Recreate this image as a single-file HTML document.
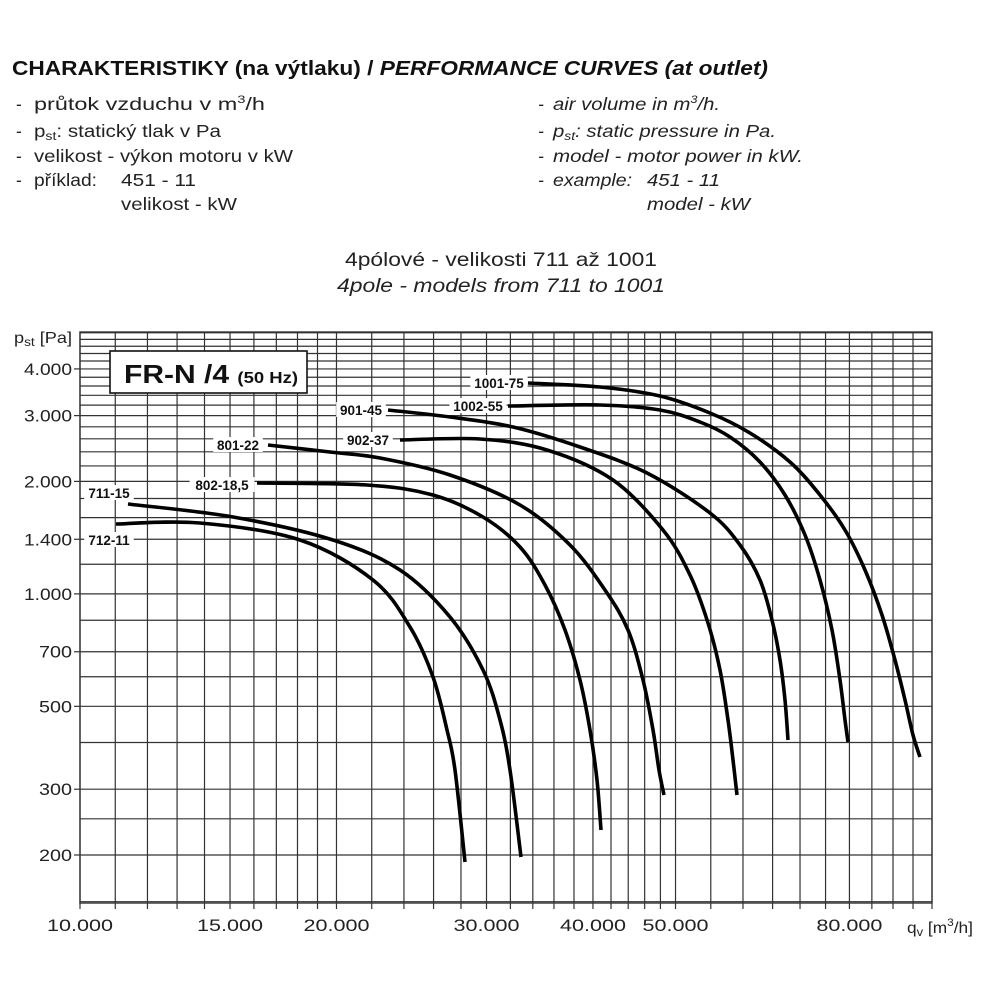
<!DOCTYPE html>
<html><head><meta charset="utf-8"><style>
body{margin:0;background:#fff;}
svg{display:block;font-family:"Liberation Sans",Arial,sans-serif;}
</style></head><body>
<svg id="s" width="1000" height="1000" viewBox="0 0 1000 1000" xmlns="http://www.w3.org/2000/svg">
<rect width="1000" height="1000" fill="#fff"/>
<text x="12" y="75" font-size="20" font-weight="bold" fill="#111" textLength="756" lengthAdjust="spacingAndGlyphs">CHARAKTERISTIKY (na výtlaku) / <tspan font-style="italic">PERFORMANCE CURVES (at outlet)</tspan></text>
<g font-size="17.5" fill="#222" lengthAdjust="spacingAndGlyphs">
<text x="16" y="110">-</text><text x="16" y="137">-</text><text x="16" y="162">-</text><text x="16" y="186">-</text>
<text x="34" y="110" textLength="231" lengthAdjust="spacingAndGlyphs">průtok vzduchu v m<tspan font-size="11" dy="-7">3</tspan><tspan dy="7">/h</tspan></text>
<text x="34" y="137" textLength="187" lengthAdjust="spacingAndGlyphs">p<tspan font-size="12" dy="3">st</tspan><tspan dy="-3">: statický tlak v Pa</tspan></text>
<text x="34" y="162" textLength="259" lengthAdjust="spacingAndGlyphs">velikost - výkon motoru v kW</text>
<text x="34" y="186" textLength="63" lengthAdjust="spacingAndGlyphs">příklad:</text><text x="121" y="186" textLength="75" lengthAdjust="spacingAndGlyphs">451 - 11</text>
<text x="121" y="210" textLength="116" lengthAdjust="spacingAndGlyphs">velikost - kW</text>
<g font-style="italic">
<text x="538" y="110">-</text><text x="538" y="137">-</text><text x="538" y="162">-</text><text x="538" y="186">-</text>
<text x="553" y="110" textLength="167" lengthAdjust="spacingAndGlyphs">air volume in m<tspan font-size="11" dy="-7">3</tspan><tspan dy="7">/h.</tspan></text>
<text x="553" y="137" textLength="223" lengthAdjust="spacingAndGlyphs">p<tspan font-size="12" dy="3">st</tspan><tspan dy="-3">: static pressure in Pa.</tspan></text>
<text x="553" y="162" textLength="250" lengthAdjust="spacingAndGlyphs">model - motor power in kW.</text>
<text x="553" y="186" textLength="79" lengthAdjust="spacingAndGlyphs">example:</text><text x="647" y="186" textLength="73" lengthAdjust="spacingAndGlyphs">451 - 11</text>
<text x="647" y="210" textLength="103" lengthAdjust="spacingAndGlyphs">model - kW</text>
</g>
</g>
<text x="345" y="266" font-size="19.5" fill="#222" textLength="312" lengthAdjust="spacingAndGlyphs">4pólové - velikosti 711 až 1001</text>
<text x="337" y="292" font-size="19.5" font-style="italic" fill="#222" textLength="328" lengthAdjust="spacingAndGlyphs">4pole - models from 711 to 1001</text>
<text x="14" y="343" font-size="16" fill="#222" textLength="58" lengthAdjust="spacingAndGlyphs">p<tspan font-size="12" dy="3">st</tspan><tspan dy="-3"> [Pa]</tspan></text>
<g id="grid"></g>
<g id="curves"></g>
<g id="labels"></g>
<text x="907" y="933" font-size="16" fill="#222" textLength="66" lengthAdjust="spacingAndGlyphs">q<tspan font-size="12" dy="3">v</tspan><tspan dy="-3"> [m</tspan><tspan font-size="11" dy="-7">3</tspan><tspan dy="7">/h]</tspan></text>
</svg>
<script>
var NS="http://www.w3.org/2000/svg";
function el(p,t,a,txt){var e=document.createElementNS(NS,t);for(var k in a)e.setAttribute(k,a[k]);if(txt!=null)e.textContent=txt;p.appendChild(e);return e;}
var L=80,R=932,T=332,B=903;
function X(q){return L+852*Math.log10(q/10000);}
function Y(p){return 855-373.6*Math.log10(p/200);}
var g=document.getElementById('grid');
var xs=[];for(var q=10000;q<=20000;q+=1000)xs.push(q);for(q=22000;q<=50000;q+=2000)xs.push(q);for(q=55000;q<=100000;q+=5000)xs.push(q);
xs.forEach(function(q){var x=X(q);el(g,'line',{x1:x,x2:x,y1:T,y2:B+6,stroke:'#333','stroke-width':1.2});});
var ys=[150,200,250,300,400,500,600,700,850,1000,1200];for(var p=1400;p<=5000;p+=200)ys.push(p);
ys.forEach(function(p){var y=Y(p);el(g,'line',{x1:L,x2:R,y1:y,y2:y,stroke:'#333','stroke-width':1.2});});
el(g,'rect',{x:L,y:T,width:R-L,height:B-T,fill:'none',stroke:'#333','stroke-width':1.4});
[[4000,'4.000'],[3000,'3.000'],[2000,'2.000'],[1400,'1.400'],[1000,'1.000'],[700,'700'],[500,'500'],[300,'300'],[200,'200']].forEach(function(a){var y=Y(a[0]);el(g,'line',{x1:L-6,x2:L,y1:y,y2:y,stroke:'#333','stroke-width':1.2});
var w=a[1].length==5?48:33;el(g,'text',{x:72-w,y:y+6,'font-size':17,fill:'#222',textLength:w,lengthAdjust:'spacingAndGlyphs'},a[1]);});
[[10000,'10.000'],[15000,'15.000'],[20000,'20.000'],[30000,'30.000'],[40000,'40.000'],[50000,'50.000'],[80000,'80.000']].forEach(function(a){el(g,'text',{x:X(a[0])-33,y:931,'font-size':17,fill:'#222',textLength:66,lengthAdjust:'spacingAndGlyphs'},a[1]);});
el(g,'rect',{x:110,y:351,width:197,height:42,fill:'#fff',stroke:'#111','stroke-width':1.6});
var t=el(g,'text',{x:124,y:383,'font-size':26,'font-weight':'bold',fill:'#111',textLength:174,lengthAdjust:'spacingAndGlyphs'},'FR-N /4 ');
el(t,'tspan',{'font-size':16},'(50 Hz)');
var C={
'1001':[[528,383],[600,387],[660,396],[710,413],[750,433],[790,462],[820,495],[845,530],[865,570],[882,615],[895,660],[905,700],[913,735],[920,757]],
'1002':[[508,406],[600,405],[660,410],[700,422],[730,437],[760,462],[785,495],[805,535],[820,580],[832,630],[840,680],[845,720],[848,742]],
'901':[[388,410],[450,417],[513,427],[580,447],[647,473],[710,513],[740,545],[760,580],[772,620],[780,660],[785,700],[788,740]],
'902':[[400,440],[480,439],[547,450],[613,480],[663,530],[690,575],[708,623],[720,670],[728,720],[733,760],[737,795]],
'801':[[268,445],[330,452],[380,458],[450,475],[520,505],[570,545],[605,590],[628,630],[643,680],[653,730],[659,770],[664,795]],
'802':[[257,483],[367,485],[433,495],[483,517],[520,547],[545,585],[565,630],[580,680],[590,730],[597,780],[601,830]],
'711':[[128,504],[233,517],[333,540],[400,570],[450,617],[483,670],[500,720],[510,770],[521,857]],
'712':[[116,524],[200,523],[300,540],[373,580],[410,627],[433,677],[447,730],[455,770],[465,862]]
};
var cg=document.getElementById('curves');
for(var k in C){var P=C[k];var d='M'+P[0][0]+','+P[0][1];
for(var i=0;i<P.length-1;i++){var p0=P[Math.max(0,i-1)],p1=P[i],p2=P[i+1],p3=P[Math.min(P.length-1,i+2)];
d+=' C'+(p1[0]+(p2[0]-p0[0])/6)+','+(p1[1]+(p2[1]-p0[1])/6)+' '+(p2[0]-(p3[0]-p1[0])/6)+','+(p2[1]-(p3[1]-p1[1])/6)+' '+p2[0]+','+p2[1];}
el(cg,'path',{d:d,fill:'none',stroke:'#000','stroke-width':3.6,'stroke-linecap':'butt'});}
var lg=document.getElementById('labels');
[['1001-75',499,383],['1002-55',478,406],['901-45',361,410],['902-37',368,440],['801-22',238,445],['802-18,5',222,485],['711-15',109,493],['712-11',109,540]].forEach(function(a){
var w=a[0].length*7.6;el(lg,'rect',{x:a[1]-w/2-2,y:a[2]-8,width:w+4,height:15,fill:'#fff'});
el(lg,'text',{x:a[1],y:a[2]+5,'font-size':13.5,'font-weight':'bold','text-anchor':'middle',fill:'#111'},a[0]);});
</script>
</body></html>
